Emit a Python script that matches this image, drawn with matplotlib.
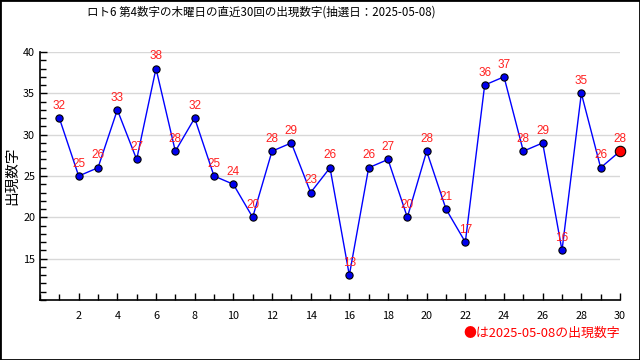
import matplotlib
matplotlib.use("Agg")
import matplotlib.pyplot as plt
from matplotlib.ticker import MultipleLocator
from matplotlib.patches import Rectangle

plt.rcParams['font.family'] = ['Noto Sans CJK JP', 'DejaVu Sans']

draws = list(range(1, 31))
values = [32, 25, 26, 33, 27, 38, 28, 32, 25, 24, 20, 28, 29, 23, 26, 13, 26, 27,
          20, 28, 21, 17, 36, 37, 28, 29, 16, 35, 26, 28]
xticks = list(range(2, 31, 2))
yticks = [15, 20, 25, 30, 35, 40]
title = "ロト6 第4数字の木曜日の直近30回の出現数字(抽選日：2025-05-08)"
ylabel = "出現数字"
note = "●は2025-05-08の出現数字"

fig = plt.figure(figsize=(6.4, 3.6), dpi=100)
ax = fig.add_axes([40/640, 60/360, 580/640, 248/360])

ax.plot(draws, values, color='#0000ff', lw=1, zorder=2, clip_on=False)
ax.plot(draws[:-1], values[:-1], 'o', ms=5.2, mfc='#0000ee', mec='black', mew=0.8,
        zorder=3, clip_on=False)
ax.plot(draws[-1:], values[-1:], 'o', ms=7.5, mfc='#ff0000', mec='black', mew=0.8,
        zorder=4, clip_on=False)
for x, v in zip(draws, values):
    ax.annotate(str(v), (x, v), xytext=(0, 4.5), textcoords='offset points',
                ha='center', va='bottom', color='#ff2020', fontsize=8.5,
                family=['Liberation Sans', 'DejaVu Sans'], zorder=5)

ax.set_xlim(0, 30)
ax.set_ylim(10, 40)
ax.set_xticks(xticks)
ax.xaxis.set_minor_locator(MultipleLocator(1))
ax.set_yticks(yticks)
ax.yaxis.set_minor_locator(MultipleLocator(1))
ax.tick_params(which='both', direction='in', labelsize=7.8, width=1, colors='black')
ax.tick_params(which='major', length=5)
ax.tick_params(which='minor', length=4)
ax.tick_params(axis='x', pad=8)
ax.grid(axis='y', which='major', color='#d8d8d8', lw=1, zorder=0)
for s in ['top', 'right']:
    ax.spines[s].set_visible(False)
for s in ['left', 'bottom']:
    ax.spines[s].set_linewidth(1.2)
ax.set_ylabel(ylabel, fontsize=10.5, labelpad=3)

fig.text(261/640, 1 - 12/360, title, ha='center', va='center', fontsize=8.3)
fig.text(620/640, 1 - 333/360, note, ha='right', va='center', fontsize=9.3, color='#ff0000')
fig.patches.append(Rectangle((0, 0), 1, 1, transform=fig.transFigure, fill=False,
                             edgecolor='black', lw=2))

fig.savefig('out.png', dpi=100)
